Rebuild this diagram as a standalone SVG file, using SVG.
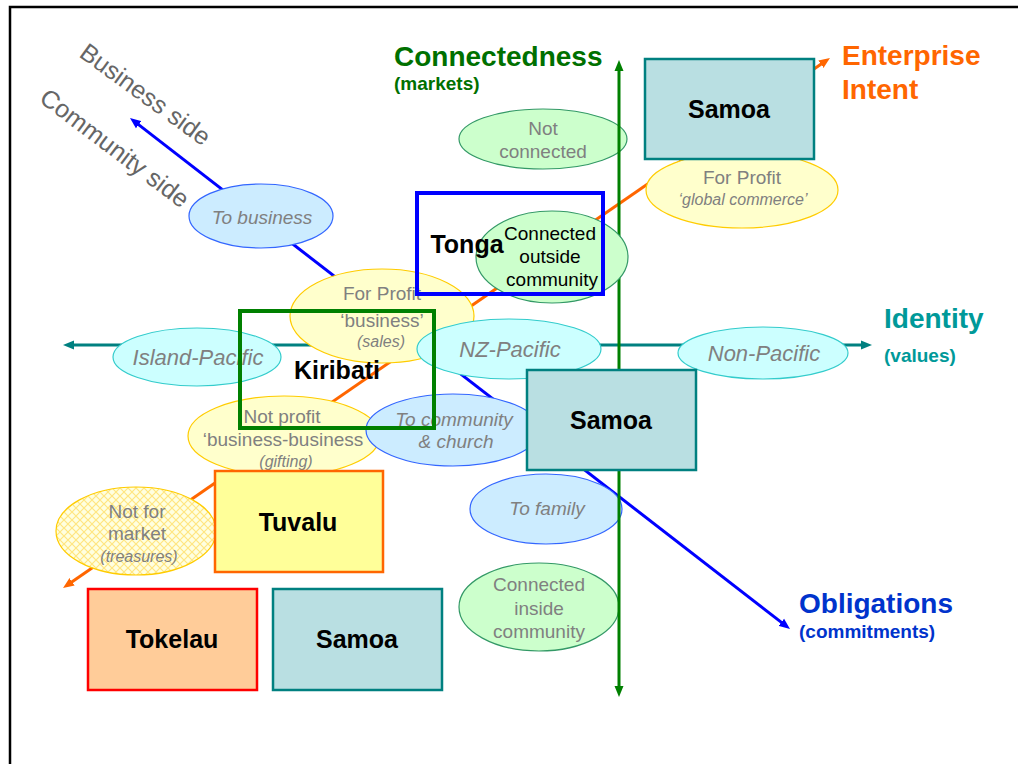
<svg xmlns="http://www.w3.org/2000/svg" width="1018" height="764" viewBox="0 0 1018 764">
  <style>
    text { font-family: "Liberation Sans", Arial, Helvetica, sans-serif; }
    .lbl { fill: #808080; font-size: 19px; text-anchor: middle; }
    .lbl-dark { fill: #000000; font-size: 19px; text-anchor: middle; }
    .it { font-style: italic; }
    .sm { font-size: 16px; }
    .big { font-size: 22px; }
    .box-t { font-weight: bold; font-size: 25px; fill: #000000; text-anchor: middle; }
    .side { fill: #666666; font-size: 25px; }
    .axis-t { font-weight: bold; font-size: 28px; }
    .axis-s { font-weight: bold; font-size: 19px; }
    .e-green { fill: #CCFFCC; stroke: #339966; stroke-width: 1.2; }
    .e-yellow { fill: #FFFFCC; stroke: #FFCC00; stroke-width: 1.2; }
    .e-blue { fill: #CCECFF; stroke: #3366FF; stroke-width: 1.2; }
    .e-cyan { fill: #CCFFFF; stroke: #33CCCC; stroke-width: 1.2; }
    .b-samoa { fill: #B9DFE2; stroke: #008080; stroke-width: 2.5; }
    .ax { fill: none; stroke-width: 3; }
  </style>
  <defs>
    <marker id="ah-teal" viewBox="0 -5 12 10" refX="3" refY="0" markerWidth="12" markerHeight="10" markerUnits="userSpaceOnUse" orient="auto-start-reverse">
      <path d="M0,-4.5 L11,0 L0,4.5 z" fill="#008080"/>
    </marker>
    <marker id="ah-green" viewBox="0 -5 12 10" refX="3" refY="0" markerWidth="12" markerHeight="10" markerUnits="userSpaceOnUse" orient="auto-start-reverse">
      <path d="M0,-4.5 L11,0 L0,4.5 z" fill="#008000"/>
    </marker>
    <marker id="ah-blue" viewBox="0 -5 12 10" refX="3" refY="0" markerWidth="12" markerHeight="10" markerUnits="userSpaceOnUse" orient="auto-start-reverse">
      <path d="M0,-4.5 L11,0 L0,4.5 z" fill="#0000FF"/>
    </marker>
    <marker id="ah-orange" viewBox="0 -5 12 10" refX="3" refY="0" markerWidth="12" markerHeight="10" markerUnits="userSpaceOnUse" orient="auto-start-reverse">
      <path d="M0,-4.5 L11,0 L0,4.5 z" fill="#FF6600"/>
    </marker>
    <pattern id="lattice" width="8" height="8" patternUnits="userSpaceOnUse">
      <rect width="8" height="8" fill="#FFFFE0"/>
      <path d="M0,0 L8,8 M8,0 L0,8" stroke="#FFE680" stroke-width="1.2"/>
    </pattern>
  </defs>

  <rect width="1018" height="764" fill="#FFFFFF"/>
  <!-- slide frame -->
  <rect x="10" y="7" width="1030" height="790" fill="none" stroke="#000000" stroke-width="2.5"/>

  <!-- axes drawn beneath the bubbles -->
  <g id="connectors">
    <line class="ax" x1="71" y1="345" x2="864" y2="345" stroke="#008080" marker-start="url(#ah-teal)" marker-end="url(#ah-teal)"/>
    <line class="ax" x1="136.3" y1="122.9" x2="783.7" y2="624.1" stroke="#0000FF" marker-start="url(#ah-blue)" marker-end="url(#ah-blue)"/>
    <line class="ax" x1="69.6" y1="583.5" x2="823.4" y2="62.5" stroke="#FF6600" marker-start="url(#ah-orange)" marker-end="url(#ah-orange)"/>
  </g>

  <!-- axis titles -->
  <g id="axis-labels">
    <text class="side" transform="translate(78,56) rotate(36)">Business side</text>
    <text class="side" transform="translate(38,101) rotate(37)">Community side</text>
    <text class="axis-t" x="394" y="66" fill="#007000">Connectedness</text>
    <text class="axis-s" x="394" y="90" fill="#007000">(markets)</text>
    <text class="axis-t" x="842" y="65" fill="#FF6600">Enterprise</text>
    <text class="axis-t" x="842" y="99" fill="#FF6600">Intent</text>
    <text class="axis-t" x="884" y="328" fill="#009999">Identity</text>
    <text class="axis-s" x="884" y="362" fill="#009999">(values)</text>
    <text class="axis-t" x="799" y="613" fill="#0033CC">Obligations</text>
    <text class="axis-s" x="799" y="638" fill="#0033CC">(commitments)</text>
  </g>

  <!-- bubbles -->
  <g id="not-connected">
    <ellipse class="e-green" cx="543" cy="139" rx="84" ry="30"/>
    <text class="lbl" x="543" y="135">Not</text>
    <text class="lbl" x="543" y="158">connected</text>
  </g>
  <g id="for-profit-global">
    <ellipse class="e-yellow" cx="742" cy="190" rx="96" ry="38"/>
    <text class="lbl" x="742" y="184">For Profit</text>
    <text class="lbl it sm" x="743" y="205">‘global commerce’</text>
  </g>
  <g id="to-business">
    <ellipse class="e-blue" cx="261" cy="216" rx="72" ry="32"/>
    <text class="lbl it" x="262" y="224">To business</text>
  </g>
  <g id="for-profit-business">
    <ellipse class="e-yellow" cx="382" cy="316" rx="92" ry="47"/>
    <text class="lbl" x="382" y="300">For Profit</text>
    <text class="lbl" x="382" y="327">‘business’</text>
    <text class="lbl it sm" x="381" y="347">(sales)</text>
  </g>
  <g id="island-pacific">
    <ellipse class="e-cyan" cx="197" cy="357" rx="84" ry="29"/>
    <text class="lbl it big" x="198" y="365">Island-Pacific</text>
  </g>
  <g id="nz-pacific">
    <ellipse class="e-cyan" cx="509" cy="349" rx="92" ry="30"/>
    <text class="lbl it big" x="510" y="357">NZ-Pacific</text>
  </g>
  <g id="non-pacific">
    <ellipse class="e-cyan" cx="763" cy="353" rx="85" ry="26"/>
    <text class="lbl it big" x="764" y="361">Non-Pacific</text>
  </g>
  <g id="not-profit">
    <ellipse class="e-yellow" cx="284" cy="436" rx="96" ry="40"/>
    <text class="lbl" x="282" y="423">Not profit</text>
    <text class="lbl" x="283" y="446">‘business-business</text>
    <text class="lbl it sm" x="286" y="467">(gifting)</text>
  </g>
  <g id="to-community">
    <ellipse class="e-blue" cx="453" cy="430" rx="87" ry="36"/>
    <text class="lbl it" x="454" y="426">To community</text>
    <text class="lbl it" x="456" y="448">&amp; church</text>
  </g>
  <g id="to-family">
    <ellipse class="e-blue" cx="546" cy="509" rx="76" ry="35"/>
    <text class="lbl it" x="547" y="515">To family</text>
  </g>
  <g id="connected-inside">
    <ellipse class="e-green" cx="539" cy="607" rx="80" ry="44"/>
    <text class="lbl" x="539" y="591">Connected</text>
    <text class="lbl" x="539" y="615">inside</text>
    <text class="lbl" x="539" y="638">community</text>
  </g>
  <g id="not-for-market">
    <ellipse cx="136" cy="531" rx="80" ry="44" fill="url(#lattice)" stroke="#FFCC00" stroke-width="1.2"/>
    <text class="lbl" x="137" y="518">Not for</text>
    <text class="lbl" x="137" y="540">market</text>
    <text class="lbl it sm" x="139" y="562">(treasures)</text>
  </g>

  <!-- connectedness axis sits over the bubbles -->
  <g id="connectors-connectedness">
    <line class="ax" x1="619" y1="68" x2="619" y2="689" stroke="#008000" marker-start="url(#ah-green)" marker-end="url(#ah-green)"/>
  </g>

  <g id="connected-outside">
    <ellipse class="e-green" cx="552" cy="257" rx="76" ry="46"/>
    <text class="lbl-dark" x="550" y="240">Connected</text>
    <text class="lbl-dark" x="550" y="263">outside</text>
    <text class="lbl-dark" x="552" y="286">community</text>
  </g>

  <!-- country boxes -->
  <g id="samoa-top">
    <rect class="b-samoa" x="645" y="59" width="169" height="100"/>
    <text class="box-t" x="729" y="118">Samoa</text>
  </g>
  <g id="tonga">
    <rect x="417" y="193" width="186" height="101" fill="none" stroke="#0000FF" stroke-width="4"/>
    <text class="box-t" x="467" y="253">Tonga</text>
  </g>
  <g id="kiribati">
    <rect x="240" y="311" width="194" height="117" fill="none" stroke="#008000" stroke-width="4"/>
    <text class="box-t" x="337" y="379">Kiribati</text>
  </g>
  <g id="samoa-middle">
    <rect class="b-samoa" x="527" y="370" width="169" height="100"/>
    <text class="box-t" x="611" y="429">Samoa</text>
  </g>
  <g id="tuvalu">
    <rect x="215" y="471" width="168" height="101" fill="#FFFF99" stroke="#FF6600" stroke-width="2.5"/>
    <text class="box-t" x="298" y="531">Tuvalu</text>
  </g>
  <g id="tokelau">
    <rect x="88" y="589" width="169" height="101" fill="#FFCC99" stroke="#FF0000" stroke-width="2.5"/>
    <text class="box-t" x="172" y="648">Tokelau</text>
  </g>
  <g id="samoa-bottom">
    <rect class="b-samoa" x="273" y="589" width="169" height="101"/>
    <text class="box-t" x="357" y="648">Samoa</text>
  </g>
</svg>
